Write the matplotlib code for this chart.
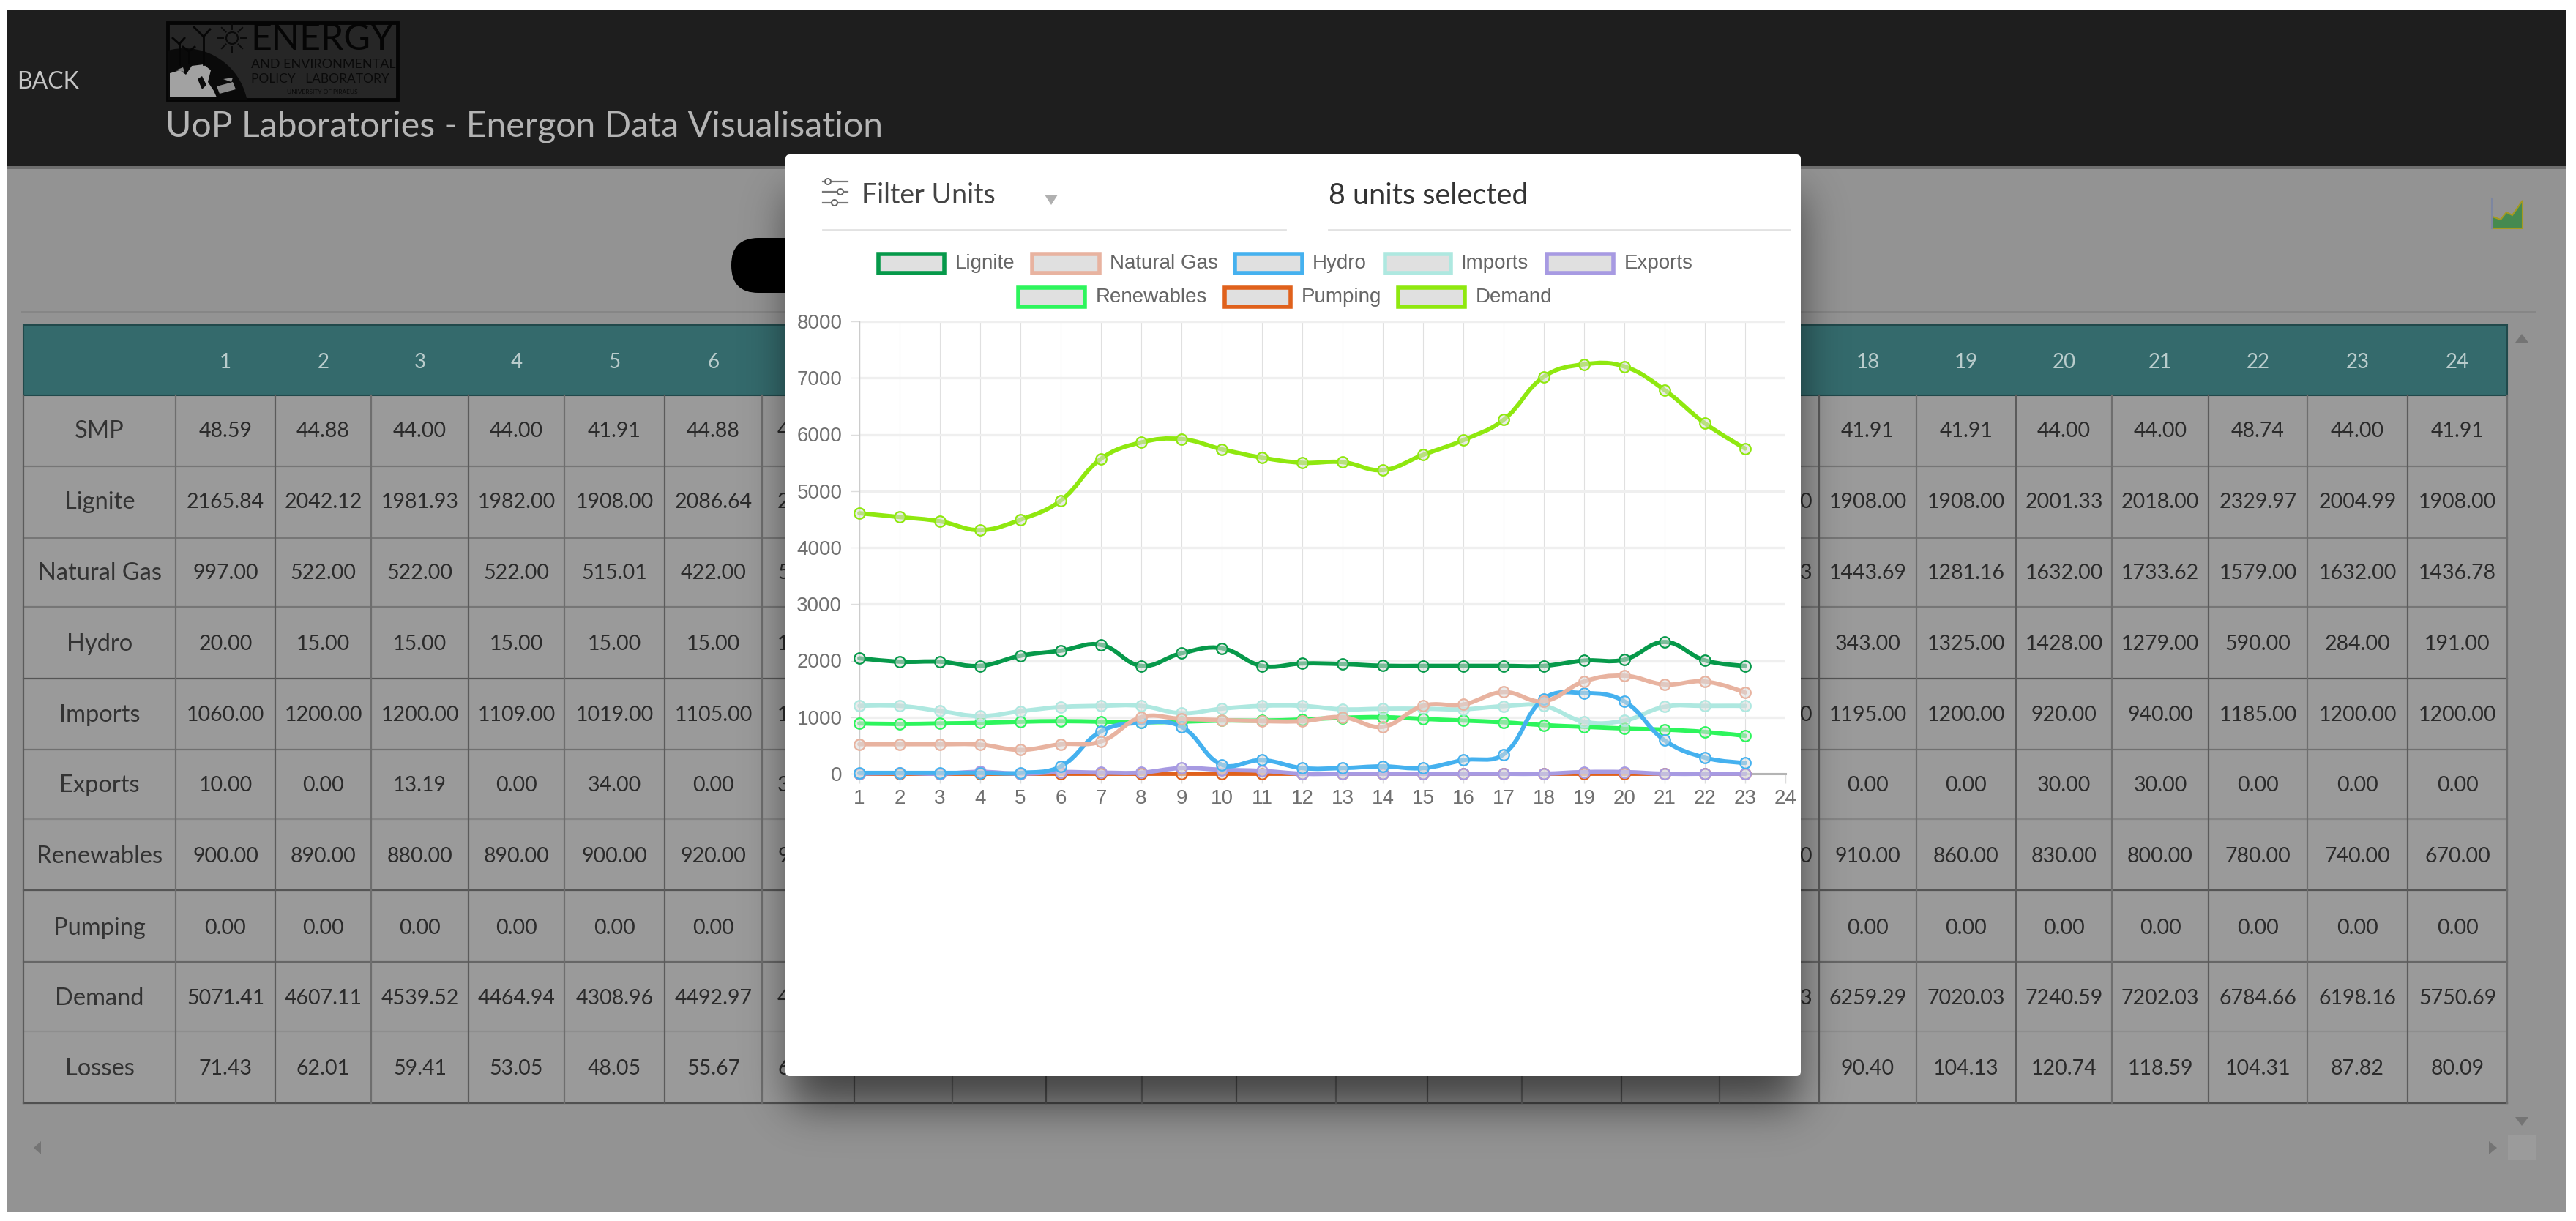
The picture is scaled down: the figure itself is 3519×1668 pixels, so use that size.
import math
import numpy as np
import matplotlib
matplotlib.use("Agg")
import matplotlib.pyplot as plt
from matplotlib.patches import Rectangle, Polygon, Circle, PathPatch, FancyBboxPatch
from matplotlib.path import Path

# ---------- chart data ----------
hours = list(range(1, 24))
lignite = [2042.12, 1981.93, 1982.00, 1908.00, 2086.64, 2176, 2280, 1908, 2130, 2220, 1908, 1950, 1940, 1910, 1908, 1908, 1908, 1908, 2001.33, 2018.00, 2329.97, 2004.99, 1908.00]
natural_gas = [522, 522, 522, 515.01, 422, 520, 570, 1000, 970, 950, 930, 930, 1000, 830, 1200, 1225, 1443.69, 1281.16, 1632, 1733.62, 1579, 1632, 1436.78]
hydro = [15, 15, 15, 15, 15, 130, 750, 900, 830, 160, 240, 100, 100, 130, 100, 240, 343, 1325, 1428, 1279, 590, 284, 191]
imports = [1200, 1200, 1109, 1019, 1105, 1180, 1200, 1200, 1070, 1150, 1200, 1200, 1140, 1150, 1150, 1140, 1195, 1200, 920, 940, 1185, 1200, 1200]
exports = [0, 13.19, 0, 34, 0, 30, 20, 20, 100, 70, 50, 0, 0, 0, 0, 0, 0, 0, 30, 30, 0, 0, 0]
renewables = [890, 880, 890, 900, 920, 930, 920, 910, 920, 940, 940, 960, 990, 1000, 970, 940, 910, 860, 830, 800, 780, 740, 670]
pumping = [0] * 23
demand = [4607.11, 4539.52, 4464.94, 4308.96, 4492.97, 4830, 5570, 5860, 5920, 5740, 5590, 5500, 5510, 5370, 5640, 5900, 6259.29, 7020.03, 7240.59, 7202.03, 6784.66, 6198.16, 5750.69]

series_names = ["Lignite", "Natural Gas", "Hydro", "Imports", "Exports", "Renewables", "Pumping", "Demand"]
series_values = [lignite, natural_gas, hydro, imports, exports, renewables, pumping, demand]
series_colors = ["#06994a", "#e8b3a0", "#45b1ef", "#aee8e0", "#a79ae2", "#2df55c", "#e0611c", "#8fe80f"]
y_ticks = [0, 1000, 2000, 3000, 4000, 5000, 6000, 7000, 8000]
x_ticks = list(range(1, 25))

# ---------- table data (columns that show beside the dialog) ----------
table_columns = ["1", "2", "3", "4", "5", "6", "18", "19", "20", "21", "22", "23", "24"]
table_rows = ["SMP", "Lignite", "Natural Gas", "Hydro", "Imports", "Exports", "Renewables", "Pumping", "Demand", "Losses"]
smp_row = [48.59, 44.88, 44.00, 44.00, 41.91, 44.88, 41.91, 41.91, 44.00, 44.00, 48.74, 44.00, 41.91]
lignite_row = [2165.84, 2042.12, 1981.93, 1982.00, 1908.00, 2086.64, 1908.00, 1908.00, 2001.33, 2018.00, 2329.97, 2004.99, 1908.00]
gas_row = [997.00, 522.00, 522.00, 522.00, 515.01, 422.00, 1443.69, 1281.16, 1632.00, 1733.62, 1579.00, 1632.00, 1436.78]
hydro_row = [20.00, 15.00, 15.00, 15.00, 15.00, 15.00, 343.00, 1325.00, 1428.00, 1279.00, 590.00, 284.00, 191.00]
imports_row = [1060.00, 1200.00, 1200.00, 1109.00, 1019.00, 1105.00, 1195.00, 1200.00, 920.00, 940.00, 1185.00, 1200.00, 1200.00]
exports_row = [10.00, 0.00, 13.19, 0.00, 34.00, 0.00, 0.00, 0.00, 30.00, 30.00, 0.00, 0.00, 0.00]
renewables_row = [900.00, 890.00, 880.00, 890.00, 900.00, 920.00, 910.00, 860.00, 830.00, 800.00, 780.00, 740.00, 670.00]
pumping_row = [0.00] * 13
demand_row = [5071.41, 4607.11, 4539.52, 4464.94, 4308.96, 4492.97, 6259.29, 7020.03, 7240.59, 7202.03, 6784.66, 6198.16, 5750.69]
losses_row = [71.43, 62.01, 59.41, 53.05, 48.05, 55.67, 90.40, 104.13, 120.74, 118.59, 104.31, 87.82, 80.09]
table_values = [smp_row, lignite_row, gas_row, hydro_row, imports_row, exports_row, renewables_row, pumping_row, demand_row, losses_row]
# what is left visible of the columns cut off by the dialog
cut_left = ["4", "2", "5", "1", "11", "3", "9", "", "4", "6"]
cut_right = ["", "0", "3", "", "0", "", "0", "", "3", ""]

# ---------- layout ----------
W, H = 3519, 1668
UI = "Lato"
fig = plt.figure(figsize=(W / 100, H / 100), dpi=100, facecolor="white")
bg = fig.add_axes([0, 0, 1, 1])
bg.set_xlim(0, W)
bg.set_ylim(H, 0)
bg.axis("off")


def rect(x0, y0, x1, y1, fc, z=1, **kw):
    p = Rectangle((x0, y0), x1 - x0, y1 - y0, facecolor=fc, edgecolor=kw.pop("ec", "none"), zorder=z, **kw)
    bg.add_patch(p)
    return p


def label(x, y, s, size, color, ha="center", z=3, family=UI, **kw):
    return bg.text(x, y, s, fontsize=size, color=color, ha=ha, va="center", zorder=z, family=family, **kw)


PAGE = (10, 14, 3506, 1656)
rect(PAGE[0], PAGE[1], PAGE[2], PAGE[3], "#939393", 1)
rect(PAGE[0], PAGE[1], PAGE[2], 227, "#1e1e1e", 2)
rect(PAGE[0], 227, PAGE[2], 231, "#6e6e6e", 2)

# top bar
label(23, 112, "BACK", 23, "#c4c4c4", ha="left")
label(226, 173, "UoP Laboratories - Energon Data Visualisation", 34.7, "#b4b4b4", ha="left")

# logo
logo = rect(229, 31, 543, 136, "#262626", 3, ec="#050505", lw=3.5)
globe = Circle((252, 153), 87, facecolor="#0a0a0a", edgecolor="none", zorder=3.1)
bg.add_patch(globe)
globe.set_clip_path(logo)
land = Polygon([(232, 100), (246, 96), (254, 102), (262, 90), (278, 88), (288, 96), (284, 112), (292, 124), (296, 133), (232, 133)],
               closed=True, facecolor="#a2a2a2", edgecolor="none", zorder=3.2)
bg.add_patch(land)
for pts_ in [[(270, 108), (276, 104), (282, 116), (276, 122)], [(296, 118), (318, 112), (322, 122), (300, 128)], [(305, 108), (318, 106), (316, 112)], [(240, 96), (250, 92), (252, 98)]]:
    bg.add_patch(Polygon(pts_, closed=True, facecolor="#0a0a0a" if pts_[0][0] == 270 else "#8a8a8a", edgecolor="none", zorder=3.3))
for a, b, c, d in [(278, 88, 278, 50), (278, 50, 265, 37), (278, 50, 287, 40), (245, 88, 245, 60), (245, 60, 236, 52), (245, 60, 252, 52), (258, 85, 258, 70), (258, 70, 250, 64), (258, 70, 266, 64)]:
    bg.plot([a, c], [b, d], color="#060606", lw=2, zorder=3.2)
bg.add_patch(Circle((317, 52), 8, facecolor="none", edgecolor="#0a0a0a", lw=1.6, zorder=3.2))
for ang in np.arange(0, 360, 45):
    ca, sa = np.cos(np.radians(ang)), np.sin(np.radians(ang))
    bg.plot([317 + 12 * ca, 317 + 20 * ca], [52 + 12 * sa, 52 + 20 * sa], color="#0a0a0a", lw=1.4, zorder=3.2)
label(342, 54, "ENERGY", 36, "#050505", ha="left")
label(343, 88, "AND ENVIRONMENTAL", 13, "#0a0a0a", ha="left")
label(343, 108, "POLICY   LABORATORY", 12.5, "#0a0a0a", ha="left")
label(440, 125, "UNIVERSITY OF PIRAEUS", 6, "#0a0a0a")

# toolbar bits
bg.add_patch(FancyBboxPatch((999, 325), 200, 75, boxstyle="round,pad=0,rounding_size=37", facecolor="#000000", edgecolor="none", zorder=2))
bg.plot([30, 3463], [426, 426], color="#868686", lw=1.4, zorder=2)
bg.add_patch(Polygon([(3405, 312), (3405, 296), (3416, 300), (3424, 290), (3432, 294), (3446, 274), (3446, 312)], closed=True, facecolor="#458a50", edgecolor="#a59a20", lw=1.5, zorder=2))
bg.plot([3404, 3404], [271, 312], color="#7d86a0", lw=1.5, zorder=2)

# table
col_edges = [240, 376, 507, 640, 771, 908, 1041, 1167, 1301, 1429, 1560, 1689, 1825, 1950, 2079, 2215, 2349, 2485, 2618, 2754, 2885, 3017, 3152, 3289, 3425]
row_edges = [540, 637, 735, 829, 927, 1024, 1119, 1216, 1314, 1409, 1507]
row_line = ["#767676", "#767676", "#767676", "#555555", "#707070", "#858585", "#555555", "#666666", "#8e8e8e", "#505050"]
row_centers = [589, 686, 783, 880, 977, 1073, 1170, 1268, 1364, 1460]
T_L, T_R = 32, 3425
rect(T_L, 540, T_R, 1507, "#9a9a9a", 2)
rect(T_L, 444, T_R, 540, "#346a6c", 2.2, ec="#21494b", lw=1.5)
for y, c in zip(row_edges[1:], row_line):
    bg.plot([T_L, T_R], [y, y], color=c, lw=1.6, zorder=2.3)
for i, x in enumerate([T_L] + col_edges):
    c = "#5b5b5b" if i % 2 == 0 else "#6e6e6e"
    bg.plot([x, x], [540, 1507], color=c, lw=1.6, zorder=2.3)
shown = list(range(6)) + list(range(17, 24))
col_centers = [(col_edges[i] + col_edges[i + 1]) / 2 for i in shown]
for x, name in zip(col_centers, table_columns):
    label(x, 495, name, 20, "#b9cccc")
for y, name, vals, cl, cr in zip(row_centers, table_rows, table_values, cut_left, cut_right):
    label(136, y, name, 23.5, "#333333")
    for x, v in zip(col_centers, vals):
        label(x, y, f"{v:.2f}", 20.5, "#2b2b2b")
    if cl:
        label(1062, y, cl, 20.5, "#2b2b2b", ha="left")
    if cr:
        label(2475, y, cr, 20.5, "#2b2b2b", ha="right")

# scrollbar bits
GR = "#747474"
bg.add_patch(Polygon([(3436, 468), (3454, 468), (3445, 456)], closed=True, fc=GR, zorder=2))
bg.add_patch(Polygon([(3436, 1526), (3454, 1526), (3445, 1538)], closed=True, fc=GR, zorder=2))
bg.add_patch(Polygon([(3400, 1559), (3400, 1577), (3411, 1568)], closed=True, fc=GR, zorder=2))
bg.add_patch(Polygon([(56, 1559), (56, 1577), (46, 1568)], closed=True, fc=GR, zorder=2))
rect(3426, 1550, 3465, 1585, "#9b9b9b", 2)

# dialog shadow: a blurred rectangle sitting a little lower than the dialog
M_L, M_T, M_R, M_B = 1073, 211, 2460, 1470
sx = np.arange(PAGE[0], PAGE[2], 4.0)
sy = np.arange(231, PAGE[3], 4.0)
erf = np.vectorize(math.erf)
SIG = 42.0
wx = 0.5 * (erf((sx - (M_L + 5)) / SIG) - erf((sx - (M_R - 5)) / SIG))
wy = 0.5 * (erf((sy - (M_T + 50)) / SIG) - erf((sy - (M_B + 40)) / SIG))
shadow = np.zeros((len(sy), len(sx), 4))
shadow[..., 3] = 0.58 * np.outer(wy, wx)
bg.imshow(shadow, extent=(PAGE[0], PAGE[2], PAGE[3], 231), zorder=4, aspect="auto", interpolation="bilinear")
bg.set_xlim(0, W)
bg.set_ylim(H, 0)

# dialog
Z = 5
bg.add_patch(FancyBboxPatch((M_L, M_T), M_R - M_L, M_B - M_T, boxstyle="round,pad=0,rounding_size=6", facecolor="#ffffff", edgecolor="none", zorder=Z))
label(1177, 267, "Filter Units", 27, "#444444", ha="left", z=Z + 1)
label(1815, 267, "8 units selected", 28.5, "#333333", ha="left", z=Z + 1)
bg.add_patch(Polygon([(1427, 266), (1445, 266), (1436, 280)], closed=True, fc="#b0b0b0", zorder=Z + 1))
bg.plot([1124, 1756], [314, 314], color="#e2e2e2", lw=2, zorder=Z + 1)
bg.plot([1815, 2445], [314, 314], color="#e2e2e2", lw=2, zorder=Z + 1)
for yy_, cx in [(248, 1131), (262, 1148), (277, 1140)]:
    bg.plot([1124, 1158], [yy_, yy_], color="#777777", lw=1.6, zorder=Z + 1)
    bg.add_patch(Circle((cx, yy_), 4, facecolor="white", edgecolor="#666666", lw=1.4, zorder=Z + 2))

# legend
leg_boxes = [(1197, 1293, 1305, 360), (1407, 1505, 1516, 360), (1684, 1782, 1793, 360), (1889, 1985, 1996, 360),
             (2110, 2207, 2219, 360), (1388, 1485, 1497, 406), (1670, 1766, 1778, 406), (1907, 2004, 2016, 406)]
for (x0, x1, tx, cy), name, col in zip(leg_boxes, series_names, series_colors):
    rect(x0 + 3, cy - 13, x1 - 3, cy + 13, "#e0e0e0", Z + 1, ec=col, lw=4)
    label(tx, cy, name, 20, "#666666", ha="left", z=Z + 1, family="Liberation Sans")

# chart
A_L, A_R, A_T, A_B = 1174, 2439, 439, 1057
ax = fig.add_axes([A_L / W, 1 - A_B / H, (A_R - A_L) / W, (A_B - A_T) / H], facecolor="none")
ax.set_xlim(1, 24)
ax.set_ylim(0, 8000)
ax.set_xticks(x_ticks)
ax.set_yticks(y_ticks)
ax.grid(axis="y", color="#efefef", lw=2.4)
ax.grid(axis="x", color="#e0e0e0", lw=0.8)
ax.set_axisbelow(True)
for s in ["top", "right"]:
    ax.spines[s].set_visible(False)
ax.spines["left"].set_color("#cccccc")
ax.spines["left"].set_linewidth(1)
ax.spines["bottom"].set_color("#b4b4b4")
ax.spines["bottom"].set_linewidth(2.2)
ax.tick_params(axis="both", length=9, color="#dddddd", width=1, labelcolor="#707070", labelsize=20, pad=8)
ax.tick_params(axis="x", pad=6)
for t in ax.get_xticklabels() + ax.get_yticklabels():
    t.set_family("Liberation Sans")


def smooth_path(xs, ys, tension=0.4):
    pts = ax.transData.transform(np.column_stack([xs, ys]))
    n = len(pts)
    before, after = pts.copy(), pts.copy()
    for i in range(1, n - 1):
        p0, p1, p2 = pts[i - 1], pts[i], pts[i + 1]
        d01, d12 = np.hypot(*(p1 - p0)), np.hypot(*(p2 - p1))
        s = d01 + d12
        before[i] = p1 - tension * d01 / s * (p2 - p0)
        after[i] = p1 + tension * d12 / s * (p2 - p0)
    verts, codes = [pts[0]], [Path.MOVETO]
    for i in range(n - 1):
        verts += [after[i], before[i + 1], pts[i + 1]]
        codes += [Path.CURVE4] * 3
    return Path(ax.transData.inverted().transform(np.array(verts)), codes)


for k in range(len(series_names) - 1, -1, -1):
    col = series_colors[k]
    z = 10 + (len(series_names) - k) * 2
    ax.add_patch(PathPatch(smooth_path(hours, series_values[k]), facecolor="none", edgecolor=col, lw=4.2, zorder=z, clip_on=False, capstyle="round"))
    ax.plot(hours, series_values[k], ls="none", marker="o", ms=10.5, mfc=(0.86, 0.86, 0.86, 0.55), mec=col, mew=1.6,
            zorder=z + 1, clip_on=False, label=series_names[k])

fig.savefig("out.png", dpi=100, facecolor="white")
